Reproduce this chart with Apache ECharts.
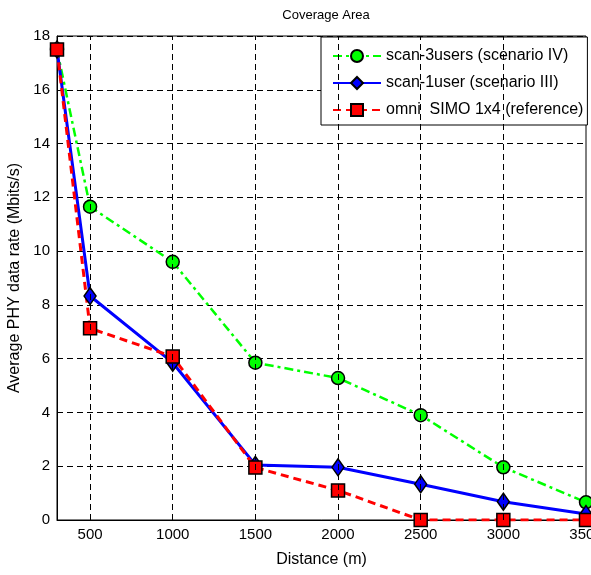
<!DOCTYPE html>
<html>
<head>
<meta charset="utf-8">
<script src="https://cdn.jsdelivr.net/npm/echarts@6/dist/echarts.min.js"></script>
<style>
html, body { margin: 0; padding: 0; background: #fff; }
#chart { width: 591px; height: 575px; }
</style>
</head>
<body>
<div id="chart"></div>
<script>
var distance = [300, 500, 1000, 1500, 2000, 2500, 3000, 3500];
var scan3users = [17.5, 11.65, 9.6, 5.85, 5.28, 3.9, 1.96, 0.66];
var scan1user = [17.5, 8.33, 5.85, 2.05, 1.96, 1.33, 0.68, 0.22];
var omniSimo = [17.5, 7.13, 6.08, 1.95, 1.1, 0, 0, 0];
var xTicks = [500, 1000, 1500, 2000, 2500, 3000, 3500];

var font = 'Arial, "Liberation Sans", sans-serif';

function pairs(ys) {
    return distance.map(function (d, i) { return [d, ys[i]]; });
}

var myChart = echarts.init(document.getElementById('chart'));
var option = {
    animation: false,
    backgroundColor: '#fff',
    title: {
        text: 'Coverage Area',
        left: 321,
        top: 4,
        textAlign: 'center',
        textStyle: { fontSize: 13, fontWeight: 'normal', color: '#000', fontFamily: font }
    },
    grid: {
        left: 57, right: 5, top: 36, bottom: 55,
        outerBoundsMode: 'none',
        containLabel: false,
        show: true, borderColor: '#000', borderWidth: 1
    },
    legend: {
        orient: 'vertical',
        left: 321,
        top: 37,
        width: 267,
        padding: [11, 4, 7, 11],
        itemGap: 11,
        itemWidth: 48,
        itemHeight: 15,
        backgroundColor: '#fff',
        borderColor: '#000',
        borderWidth: 1,
        borderRadius: 0,
        textStyle: { fontSize: 16, color: '#000', fontFamily: font },
        data: ['scan-3users (scenario IV)', 'scan-1user (scenario III)', 'omni  SIMO 1x4 (reference)']
    },
    xAxis: {
        type: 'value',
        min: 300,
        max: 3500,
        name: 'Distance (m)',
        nameLocation: 'middle',
        nameGap: 32,
        nameTextStyle: { fontSize: 16, color: '#000', fontFamily: font },
        axisLine: { show: true, lineStyle: { color: '#000', width: 1 } },
        axisTick: { show: true, inside: true, length: 5, customValues: xTicks, lineStyle: { color: '#000' } },
        axisLabel: {
            show: true, customValues: xTicks, fontSize: 15, color: '#000', fontFamily: font, margin: 7,
            formatter: function (v) { return String(v); }
        },
        splitLine: { show: false }
    },
    yAxis: {
        type: 'value',
        min: 0,
        max: 18,
        interval: 2,
        name: 'Average PHY data rate (Mbits/s)',
        nameLocation: 'middle',
        nameGap: 31,
        nameTextStyle: { fontSize: 16, color: '#000', fontFamily: font },
        axisLine: { show: true, lineStyle: { color: '#000', width: 1 } },
        axisTick: { show: true, inside: true, length: 5, lineStyle: { color: '#000' } },
        axisLabel: { fontSize: 15, color: '#000', fontFamily: font, margin: 7 },
        splitLine: { show: true, lineStyle: { color: '#000', type: [6, 4], width: 1 } }
    },
    series: [
        {
            name: 'scan-3users (scenario IV)',
            type: 'line',
            data: pairs(scan3users),
            symbol: 'circle',
            symbolSize: 13,
            color: '#00ff00',
            lineStyle: { color: '#00ff00', width: 2.5, type: [9, 4, 3, 4] },
            itemStyle: { color: '#00ff00', borderColor: '#000', borderWidth: 1.5 },
            markLine: {
                silent: true,
                symbol: 'none',
                label: { show: false },
                lineStyle: { color: '#000', type: [6, 4], width: 1 },
                data: xTicks.slice(0, 6).map(function (v) { return { xAxis: v }; })
            }
        },
        {
            name: 'scan-1user (scenario III)',
            type: 'line',
            data: pairs(scan1user),
            symbol: 'diamond',
            symbolSize: [12, 17],
            color: '#0000ff',
            lineStyle: { color: '#0000ff', width: 3, type: 'solid' },
            itemStyle: { color: '#0000ff', borderColor: '#000', borderWidth: 1.5 }
        },
        {
            name: 'omni  SIMO 1x4 (reference)',
            type: 'line',
            data: pairs(omniSimo),
            symbol: 'rect',
            symbolSize: 13,
            color: '#ff0000',
            lineStyle: { color: '#ff0000', width: 3, type: [8, 5] },
            itemStyle: { color: '#ff0000', borderColor: '#000', borderWidth: 1.5 }
        }
    ]
};
myChart.setOption(option);
window.addEventListener('resize', function () {
    myChart.resize();
});
</script>
</body>
</html>
